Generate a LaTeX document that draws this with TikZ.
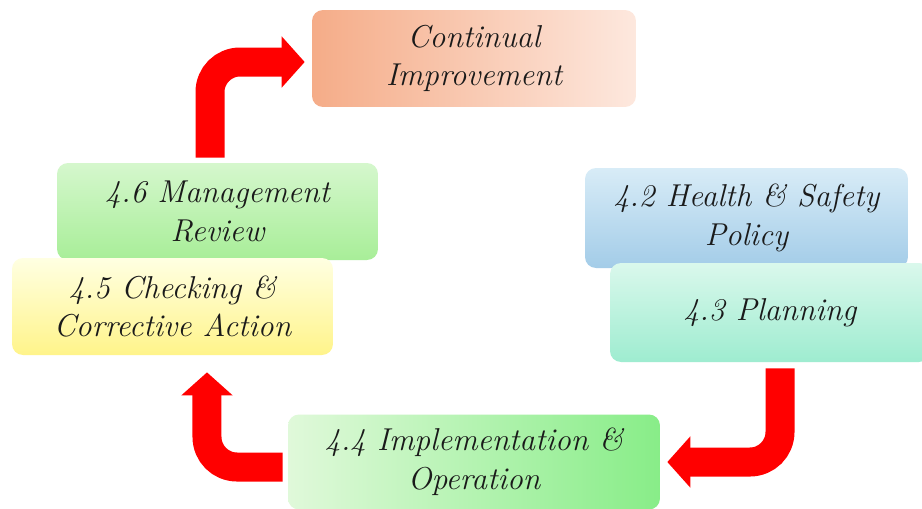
\documentclass[tikz,border=0pt]{standalone}
\usepackage{fontspec}
\usetikzlibrary{arrows.meta}
\definecolor{ciL}{HTML}{F5AC88}
\definecolor{ciR}{HTML}{FDE8DE}
\definecolor{mrT}{HTML}{D5F7CD}
\definecolor{mrB}{HTML}{A8EE98}
\definecolor{ccT}{HTML}{FFFFE2}
\definecolor{ccB}{HTML}{FFF48A}
\definecolor{hsT}{HTML}{D8ECF7}
\definecolor{hsB}{HTML}{A3CCE8}
\definecolor{plT}{HTML}{DAF8EC}
\definecolor{plB}{HTML}{9EECD0}
\definecolor{ioL}{HTML}{E0F9DA}
\definecolor{ioR}{HTML}{88ED88}
\definecolor{arrred}{HTML}{FF0000}
\definecolor{txt}{HTML}{1A1A1A}
\tikzset{
  stagebox/.style={rounded corners=0.22cm, inner sep=0pt, align=center,
    text=txt, font=\itshape\fontsize{18}{22}\selectfont},
  redarr/.style={draw=arrred, line width=0.58cm, rounded corners=0.6cm,
    -{Triangle[width=1.0cm,length=0.46cm]}}
}
\begin{document}
\begin{tikzpicture}[x=0.02cm,y=-0.02cm]
\clip (0,0) rectangle (922,508);
\fill[white] (0,0) rectangle (922,508);
% boxes
\node[stagebox, minimum width=6.48cm, minimum height=1.94cm,
  left color=ciL, right color=ciR] (ci) at (474,58.5) {Continual\\Improvement};
\node[stagebox, minimum width=6.42cm, minimum height=1.94cm,
  top color=mrT, bottom color=mrB] (mr) at (217.5,211.5) {4.6 Management\\Review};
\node[stagebox, minimum width=6.42cm, minimum height=1.94cm,
  top color=ccT, bottom color=ccB] (cc) at (172.5,306.5) {4.5 Checking \&\\Corrective Action};
\node[stagebox, minimum width=6.46cm, minimum height=2.0cm,
  top color=hsT, bottom color=hsB] (hs) at (746.5,218) {4.2 Health \& Safety\\Policy};
\node[stagebox, minimum width=6.4cm, minimum height=1.98cm,
  top color=plT, bottom color=plB] (pl) at (770,312.5) {4.3 Planning};
\node[stagebox, minimum width=7.44cm, minimum height=1.9cm,
  left color=ioL, right color=ioR] (io) at (474,462) {4.4 Implementation \&\\Operation};
% arrows
\draw[redarr, shorten <=0.1cm, shorten >=0.14cm]
  ([xshift=-0.15cm]mr.north) |- ([yshift=-0.07cm]ci.west);
\draw[redarr, shorten <=0.12cm, shorten >=0.14cm]
  ([xshift=0.2cm]pl.south) |- (io.east);
\draw[redarr, shorten <=0.1cm, shorten >=0.34cm]
  ([yshift=-0.1cm]io.west) -| ([xshift=0.69cm]cc.south);
\end{tikzpicture}
\end{document}
